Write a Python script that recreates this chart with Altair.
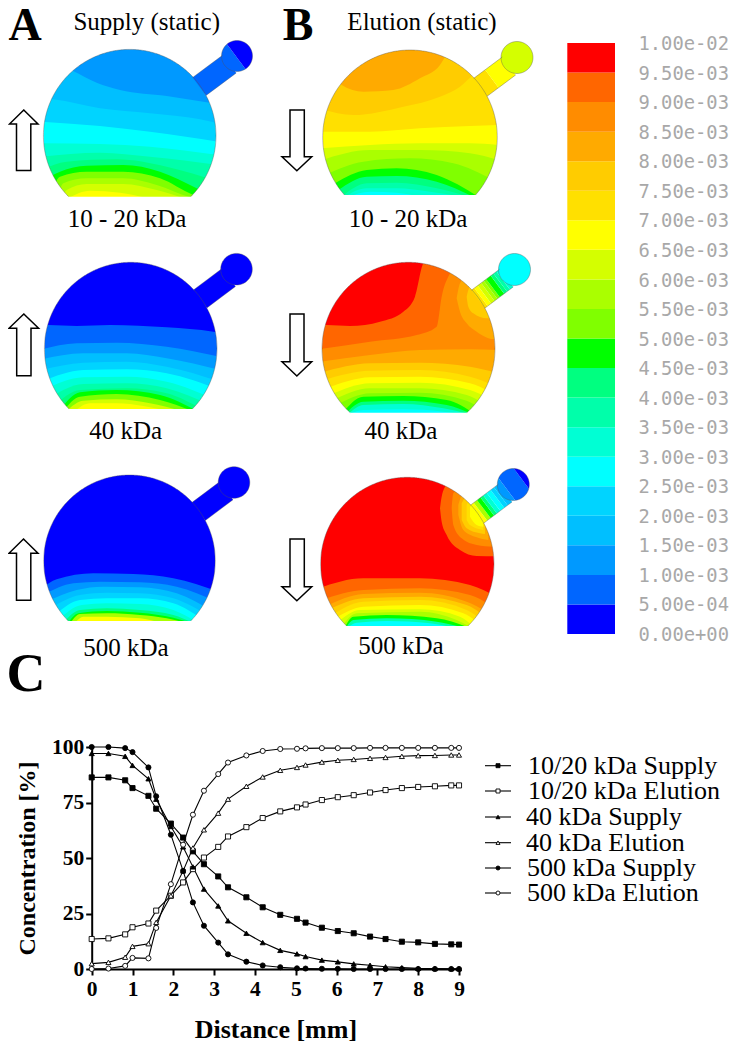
import math
import altair as alt
import pandas as pd

# ---------- colour levels (bottom of the colour bar first) ----------
COLORS = ["#0000ff", "#0066ff", "#0099ff", "#00bfff", "#00d4ff", "#00ffff", "#00ffd4",
          "#00ffaa", "#00ff80", "#00ff00", "#80ff00", "#aaff00", "#d4ff00", "#ffff00",
          "#ffe000", "#ffcc00", "#ffaa00", "#ff8c00", "#ff6600", "#ff0000"]
BAR_LABELS = ["0.00e+00", "5.00e-04", "1.00e-03", "1.50e-03", "2.00e-03", "2.50e-03", "3.00e-03",
              "3.50e-03", "4.00e-03", "4.50e-03", "5.00e-03", "5.50e-03", "6.00e-03", "6.50e-03",
              "7.00e-03", "7.50e-03", "8.00e-03", "8.50e-03", "9.00e-03", "9.50e-03", "1.00e-02"]

# ---------- concentration profiles ----------
DIST = [0, 0.41, 0.82, 1.0, 1.39, 1.58, 1.94, 2.24, 2.48, 2.75, 3.1, 3.34, 3.79, 4.19, 4.62, 5.03,
        5.24, 5.64, 6.03, 6.42, 6.82, 7.2, 7.6, 8.0, 8.41, 8.81, 9.0]
S10 = [86.3, 86.3, 85, 81.5, 78, 72.2, 65.5, 59.2, 53, 47.2, 41.7, 36.8, 32.3, 27.8, 24.4, 22.6,
       20.9, 18.6, 17.1, 16.1, 14.6, 13.5, 12.3, 12, 11.3, 11.1, 11]
E10 = [13.5, 13.8, 15.6, 18.8, 20.5, 26.3, 33, 39, 45, 50.2, 55, 59.7, 63.9, 68, 71, 72.8,
       74.1, 76.1, 77.4, 78.3, 79.5, 80.6, 81.5, 82, 82.3, 82.7, 82.7]
S40 = [97.1, 97.1, 95.8, 91.7, 85.7, 76.5, 64.2, 55, 46, 36, 28.4, 21.7, 16.1, 11.9, 8.4, 6.8,
       5.6, 4, 3.2, 2.3, 1.7, 1, 0.6, 0.3, 0.2, 0.1, 0.1]
E40 = [2.4, 3, 5.3, 10.2, 11.4, 21, 33, 44.2, 54.5, 62.7, 70.2, 76.5, 82.3, 86.5, 89.5, 90.8,
       91.9, 93.2, 94, 94.4, 94.9, 95.3, 95.8, 96.1, 96.2, 96.4, 96.4]
S500 = [100, 100, 99.5, 97.7, 90.8, 77.8, 60.5, 44.2, 30, 19.5, 11.9, 6.6, 3.3, 1.6, 0.8, 0.3,
        0.2, 0.1, 0.1, 0, 0, 0, 0, 0, 0, 0, 0]
E500 = [0, 0.2, 1.4, 5, 4.8, 18.5, 38.2, 56, 69.5, 80.3, 87.8, 93, 96.2, 98.2, 99.1, 99.2,
        99.4, 99.5, 99.5, 99.5, 99.6, 99.6, 99.6, 99.6, 99.6, 99.6, 99.6]
NAMES = ["10/20 kDa Supply", "10/20 kDa Elution", "40 kDa Supply", "40 kDa Elution",
         "500 kDa Supply", "500 kDa Elution"]
SERIES = [S10, E10, S40, E40, S500, E500]
SHAPES = ["square", "square", "triangle-up", "triangle-up", "circle", "circle"]
FILLS = ["black", "white", "black", "white", "black", "white"]
LEG_Y = [765.7, 791, 817, 842.7, 868, 893]
LEG_TX = [528, 528, 526, 526, 527, 527]

# ---------- contour panels, read in 3x crop coordinates (crop origin ox, oy) ----------
A1 = dict(ox=0, oy=0, c=(129.7, 135.7, 86.3), flat=196.7, head=(237, 56, 15.5), shift=2, base=2,
          stem=[(0, 1, 1)], headb=[(-99, -1, 1), (-1, 99, 0)], bands=[
    (3, [(125, 175), (218, 212), (290, 248), (360, 270), (500, 288), (615, 306), (655, 312)]),
    (4, [(125, 295), (160, 298), (300, 325), (450, 340), (600, 358), (655, 370)]),
    (5, [(125, 365), (300, 378), (450, 395), (655, 425)]),
    (6, [(125, 430), (300, 432), (450, 440), (655, 465)]),
    (7, [(125, 470), (300, 458), (450, 470), (655, 495)]),
    (8, [(125, 510), (200, 485), (350, 478), (500, 500), (655, 545)]),
    (9, [(125, 545), (180, 515), (260, 497), (370, 495), (480, 515), (590, 565), (655, 610)]),
    (10, [(150, 590), (180, 530), (260, 515), (370, 515), (480, 535), (580, 585), (620, 600)]),
    (11, [(170, 600), (190, 550), (260, 535), (370, 535), (470, 555), (570, 592), (600, 600)]),
    (12, [(185, 600), (200, 570), (260, 552), (370, 552), (470, 570), (560, 598)]),
    (13, [(205, 594), (270, 572), (360, 578), (440, 594)]),
])
A2 = dict(ox=0, oy=240, c=(130.7, 348.6, 86.3), flat=409, head=(236.5, 269.2, 15.8), shift=2, base=0,
          stem=[(0, 1, 0)], headb=[(-99, 99, 0)], bands=[
    (1, [(125, 255), (145, 255), (230, 258), (330, 255), (500, 262), (640, 275), (660, 278)]),
    (2, [(125, 328), (230, 310), (350, 308), (500, 320), (660, 350)]),
    (3, [(125, 358), (250, 340), (380, 340), (500, 355), (660, 390)]),
    (4, [(125, 390), (250, 368), (380, 365), (500, 380), (660, 425)]),
    (5, [(125, 425), (250, 390), (380, 388), (500, 400), (660, 450)]),
    (6, [(130, 450), (250, 412), (380, 410), (500, 425), (650, 480)]),
    (7, [(140, 480), (250, 432), (380, 430), (500, 445), (630, 495)]),
    (8, [(160, 500), (240, 450), (380, 445), (500, 460), (610, 510)]),
    (9, [(180, 510), (240, 457), (350, 450), (480, 465), (590, 512)]),
    (10, [(190, 512), (240, 470), (350, 462), (480, 480), (575, 512)]),
    (12, [(200, 512), (250, 482), (350, 478), (450, 490), (540, 512)]),
    (13, [(225, 512), (270, 490), (350, 490), (430, 498), (500, 512)]),
])
A3 = dict(ox=0, oy=450, c=(129.5, 560.8, 85.8), flat=621, head=(234, 482.5, 15.8), shift=2, base=0,
          stem=[(0, 1, 0)], headb=[(-99, 99, 0)], bands=[
    (1, [(125, 415), (170, 388), (280, 370), (400, 372), (520, 385), (655, 425)]),
    (2, [(130, 435), (220, 400), (300, 395), (420, 397), (530, 410), (650, 455)]),
    (3, [(140, 455), (230, 420), (310, 410), (420, 412), (530, 430), (640, 485)]),
    (4, [(150, 475), (240, 435), (320, 428), (420, 430), (520, 445), (630, 500)]),
    (5, [(165, 495), (240, 450), (320, 445), (420, 445), (520, 460), (610, 510)]),
    (6, [(175, 510), (245, 465), (320, 460), (420, 462), (520, 480), (590, 516)]),
    (8, [(190, 518), (240, 480), (320, 475), (420, 480), (520, 495), (578, 518)]),
    (9, [(205, 518), (235, 490), (320, 483), (420, 488), (520, 503), (570, 518)]),
    (11, [(212, 518), (240, 492), (320, 490), (420, 495), (500, 505), (555, 518)]),
    (13, [(225, 518), (250, 500), (320, 500), (420, 505), (480, 518)]),
])
B1 = dict(ox=270, oy=0, c=(410, 137.3, 87.3), flat=195, head=(517, 57.5, 16), shift=2, base=16,
          stem=[(0, 0.4, 14), (0.4, 1, 13)], headb=[(-99, 99, 12)], bands=[
    (15, [(150, 190), (215, 255), (280, 275), (370, 270), (450, 235), (510, 195), (530, 165), (560, 152), (690, 152)]),
    (14, [(155, 328), (250, 345), (400, 320), (510, 290), (570, 260), (610, 225), (690, 190)]),
    (13, [(155, 395), (300, 395), (450, 385), (600, 378), (685, 375)]),
    (12, [(155, 445), (300, 435), (450, 430), (600, 430), (685, 435)]),
    (11, [(155, 480), (300, 450), (450, 450), (600, 460), (685, 480)]),
    (10, [(165, 525), (280, 485), (420, 475), (550, 490), (670, 540)]),
    (9, [(195, 550), (290, 510), (380, 505), (500, 525), (625, 590)]),
    (8, [(205, 570), (290, 530), (380, 528), (500, 545), (610, 590)]),
    (7, [(215, 590), (290, 550), (380, 548), (500, 565), (595, 590)]),
    (6, [(225, 590), (290, 565), (380, 565), (480, 575), (575, 590)]),
    (5, [(235, 590), (300, 575), (380, 578), (450, 590)]),
])
B2 = dict(ox=270, oy=240, c=(408.5, 348.8, 86.5), flat=412.7, head=(514.5, 269.5, 16), shift=2, base=19,
          stem=[(0, 0.1, 14), (0.1, 0.22, 13), (0.22, 0.34, 12), (0.34, 0.44, 11), (0.44, 0.52, 10),
                (0.52, 0.68, 9), (0.68, 0.78, 8), (0.78, 0.88, 7), (0.88, 1, 6)],
          headb=[(-99, 99, 5)], bands=[
    (18, [(150, 255), (170, 255), (240, 258), (330, 245), (400, 215), (435, 170), (460, 70), (470, 62), (690, 62)]),
    (17, [(150, 327), (300, 305), (440, 285), (500, 260), (515, 170), (540, 100), (560, 70), (690, 70)]),
    (16, [(560, 175, 175), (570, 130, 215), (590, 110, 250), (620, 100, 275), (670, 100, 297), (685, 100, 297)]),
    (15, [(590, 170, 170), (595, 150, 200), (610, 130, 220), (650, 130, 235), (665, 130, 235)]),
    (16, [(150, 365), (300, 345), (450, 330), (600, 328), (685, 330)]),
    (15, [(155, 397), (300, 370), (450, 368), (600, 380), (680, 398)]),
    (14, [(160, 420), (300, 392), (450, 390), (600, 410), (670, 435)]),
    (13, [(170, 445), (300, 412), (450, 410), (600, 430), (660, 455)]),
    (12, [(180, 465), (300, 430), (450, 428), (600, 450), (650, 472)]),
    (11, [(190, 480), (300, 445), (450, 445), (590, 465), (640, 490)]),
    (10, [(200, 495), (300, 460), (450, 458), (590, 482), (630, 505)]),
    (9, [(215, 522), (280, 470), (400, 468), (530, 480), (615, 522)]),
    (8, [(225, 522), (280, 485), (400, 482), (530, 495), (605, 522)]),
    (6, [(235, 522), (280, 495), (400, 492), (520, 505), (595, 522)]),
    (5, [(240, 522), (280, 510), (400, 508), (520, 515), (570, 522)]),
])
B3 = dict(ox=270, oy=450, c=(407.3, 564, 86.7), flat=626, head=(513.3, 484.5, 16), shift=2, base=19,
          stem=[(0, 0.12, 13), (0.12, 0.24, 11), (0.24, 0.36, 9), (0.36, 0.46, 8), (0.46, 0.58, 6),
                (0.58, 0.72, 5), (0.72, 0.84, 4), (0.84, 1, 3)],
          headb=[(-99, -8, 2), (-8, 10, 1), (10, 99, 0)], bands=[
    (18, [(510, 175, 175), (515, 140, 215), (530, 105, 255), (570, 90, 300), (620, 90, 318), (680, 90, 319)]),
    (17, [(545, 175, 175), (550, 130, 225), (575, 110, 265), (620, 110, 285), (670, 110, 290)]),
    (16, [(565, 165, 195), (580, 130, 240), (620, 130, 262), (655, 130, 270)]),
    (15, [(575, 160, 210), (590, 140, 235), (630, 140, 250), (645, 140, 252)]),
    (14, [(590, 165, 210), (600, 150, 225), (640, 150, 240)]),
    (13, [(600, 170, 200), (620, 165, 225), (640, 165, 230)]),
    (18, [(145, 415), (280, 385), (450, 385), (600, 405), (680, 440)]),
    (17, [(155, 450), (280, 420), (450, 415), (600, 435), (660, 465)]),
    (16, [(165, 470), (280, 432), (450, 428), (590, 455), (650, 485)]),
    (15, [(175, 480), (280, 445), (450, 440), (590, 465), (640, 495)]),
    (14, [(185, 495), (280, 455), (450, 450), (590, 480), (630, 505)]),
    (13, [(195, 505), (280, 470), (450, 465), (580, 490), (620, 515)]),
    (12, [(205, 515), (270, 480), (450, 478), (570, 500), (610, 530)]),
    (11, [(215, 530), (260, 490), (450, 485), (560, 510), (600, 530)]),
    (9, [(225, 530), (250, 500), (350, 495), (500, 505), (590, 530)]),
    (7, [(230, 530), (250, 510), (350, 505), (500, 515), (570, 530)]),
    (5, [(235, 530), (260, 518), (350, 513), (480, 520), (540, 530)]),
])
PANELS = [A1, A2, A3, B1, B2, B3]

# arrows: shaft x0, x1, wing x0, x1, tip y, wing y, tail y
ARROWS = [(16.5, 30.8, 9.5, 38, 110, 124, 170.5), (16.7, 31, 9, 38.6, 314, 328.3, 375.7),
          (16.5, 30.8, 9, 38, 539, 553.3, 600.3), (290, 304.3, 282, 311.7, 170.7, 156.7, 110),
          (290, 304, 282, 311.7, 376, 361.7, 314), (290, 304.3, 282, 311.7, 600.7, 586.7, 539)]

LABEL_TXT = ["Supply (static)", "Elution (static)", "10 - 20 kDa", "40 kDa", "500 kDa",
             "10 - 20 kDa", "40 kDa", "500 kDa"]
LABEL_X = [146.7, 422, 127, 125.7, 126, 408, 401, 401]
LABEL_Y = [30, 30, 226.7, 439, 655.7, 226.7, 439, 654]
LETTER_TXT = ["A", "B", "C"]
LETTER_X = [25, 298, 26]
LETTER_Y = [39.5, 39.5, 691]
LETTER_S = [46, 46, 54]

# ---------- scene geometry ----------
def clip(poly, n, d0, d1):
    def half(p, f):
        out = []
        for i in range(len(p)):
            a, b = p[i], p[(i + 1) % len(p)]
            fa, fb = f(a), f(b)
            if fa >= 0:
                out.append(a)
            if fa * fb < 0:
                t = fa / (fa - fb)
                out.append((a[0] + t * (b[0] - a[0]), a[1] + t * (b[1] - a[1])))
        return out
    p = half(poly, lambda q: q[0] * n[0] + q[1] * n[1] - d0)
    return half(p, lambda q: d1 - q[0] * n[0] - q[1] * n[1]) if p else p

def columns(poly):
    xs = sorted({round(p[0], 2) for p in poly})
    rows = []
    for x in xs:
        ys = []
        for i in range(len(poly)):
            a, b = poly[i], poly[(i + 1) % len(poly)]
            lo, hi = min(a[0], b[0]), max(a[0], b[0])
            if lo - 0.011 <= x <= hi + 0.011:
                if abs(a[0] - b[0]) < 1e-6:
                    ys += [a[1], b[1]]
                else:
                    t = min(1, max(0, (x - a[0]) / (b[0] - a[0])))
                    ys.append(a[1] + t * (b[1] - a[1]))
        if ys:
            rows.append((x, min(ys), max(ys)))
    return rows

smooth, masks, polys, outlines = [], [], [], []
for pi, P in enumerate(PANELS):
    ox, oy = P["ox"], P["oy"]
    cx, cy, r = P["c"]
    flat = P["flat"]
    top, bot = cy - r - 3, flat + 3
    left, right = cx - r - 4, cx + r + 4
    tag = f"p{pi}"
    for x in (left, right):
        smooth.append(dict(x=x, y=top, y2=bot, lvl=P["base"], g=f"{tag}base"))
    for bi, (lvl, pts) in enumerate(P["bands"]):
        for q in pts:
            x = ox + q[0] / 3
            y = max(top, min(bot, oy + q[1] / 3))
            y2 = oy + q[2] / 3 if len(q) == 3 else bot
            smooth.append(dict(x=x, y=y, y2=y2, lvl=lvl, g=f"{tag}b{bi:02d}"))
    # white mask around the disc: upper part, lower part, and two overlapping side strips
    mt, mb, ml, mr = top - 3, bot + 3, left - 3, right + 3
    n = 240
    xs = [cx - r - 1] + [cx - r + 2 * r * i / n for i in range(n + 1)] + [cx + r + 1]
    for x in xs:
        h = math.sqrt(max(0, r * r - (x - cx) ** 2))
        masks.append(dict(x=x, y=mt, y2=cy - h, g=f"{tag}u"))
        masks.append(dict(x=x, y=min(cy + h, flat), y2=mb, g=f"{tag}l"))
    for side, (a, b) in enumerate(((ml, cx - r), (cx + r, mr))):
        for x in (a, b):
            masks.append(dict(x=x, y=mt, y2=mb, g=f"{tag}side{side}"))
    # outline of the disc
    a0 = math.asin(min(1, (flat - cy) / r))
    steps = 160
    for i in range(steps + 1):
        ang = math.pi - a0 + (math.pi + 2 * a0) * i / steps
        outlines.append(dict(x=cx + r * math.cos(ang), y=cy + r * math.sin(ang), i=i, g=f"{tag}disc"))
    # stem and head
    hx, hy, hr = P["head"]
    dist = math.hypot(hx - cx, hy - cy)
    ux, uy = (hx - cx) / dist, (hy - cy) / dist
    vx, vy = -uy, ux
    w, s = 11.2, P["shift"]
    t0 = math.sqrt(r * r - (w + s) ** 2)
    t1 = dist - math.sqrt(hr * hr - w * w)
    for si, (f0, f1, lvl) in enumerate(P["stem"]):
        a, b = t0 + (t1 - t0) * f0, t0 + (t1 - t0) * f1
        quad = [(cx + ux * t + vx * k, cy + uy * t + vy * k)
                for t, k in ((a, s - w), (b, s - w), (b, s + w), (a, s + w))]
        for x, y, y2 in columns(quad):
            polys.append(dict(x=x, y=y, y2=y2, lvl=lvl, g=f"{tag}s{si:02d}"))
    for e, k in enumerate((s - w, s + w)):
        for i, t in enumerate((t0, t1)):
            outlines.append(dict(x=cx + ux * t + vx * k, y=cy + uy * t + vy * k, i=i, g=f"{tag}e{e}"))
    ring = [(hx + hr * math.cos(2 * math.pi * i / 72), hy + hr * math.sin(2 * math.pi * i / 72)) for i in range(72)]
    for hi_, (d0, d1, lvl) in enumerate(P["headb"]):
        base = hx * ux + hy * uy
        part = clip(ring, (ux, uy), base + d0, base + d1)
        for x, y, y2 in columns(part):
            polys.append(dict(x=x, y=y, y2=y2, lvl=lvl, g=f"{tag}z{hi_:02d}"))
    for i, q in enumerate(ring + ring[:1]):
        outlines.append(dict(x=q[0], y=q[1], i=i, g=f"{tag}head"))

arrow_rows = []
for ai, (sx0, sx1, wx0, wx1, tip, wing, tail) in enumerate(ARROWS):
    mid = (wx0 + wx1) / 2
    seq = [(mid, tip), (wx1, wing), (sx1, wing), (sx1, tail), (sx0, tail), (sx0, wing), (wx0, wing), (mid, tip), (wx1, wing)]
    for i, (x, y) in enumerate(seq):
        arrow_rows.append(dict(x=x, y=y, i=i, g=f"a{ai}"))

BAR_TOP, BAR_BOT = 43.0, 634.0
bar_rows = [dict(x=567.3, x2=615, y=BAR_BOT - (BAR_BOT - BAR_TOP) * i / 20,
                 y2=BAR_BOT - (BAR_BOT - BAR_TOP) * (i + 1) / 20, lvl=i) for i in range(20)]
bar_txt = [dict(x=638.5, y=634 - 29.53 * i + 6.9, t=t) for i, t in enumerate(BAR_LABELS)]

# ---------- scales ----------
W, H = 721, 1035
SX = alt.Scale(domain=[8, 8 + W], nice=False, zero=False)
SY = alt.Scale(domain=[8 + H, 8], nice=False, zero=False)
X = alt.X("x:Q", scale=SX, axis=None)
Y = alt.Y("y:Q", scale=SY, axis=None)
LVL = alt.Color("lvl:O", scale=alt.Scale(domain=list(range(20)), range=COLORS), legend=None)
CX = alt.Scale(domain=[0, 9], range=[83.7, 451], nice=False, zero=False)
CY = alt.Scale(domain=[0, 100], range=[961, 739], nice=False, zero=False)
SHP = alt.Shape("s:N", scale=alt.Scale(domain=NAMES, range=SHAPES), legend=None)
FIL = alt.Color("s:N", scale=alt.Scale(domain=NAMES, range=FILLS), legend=None)

long = pd.DataFrame([dict(d=d, v=v, s=n) for n, vals in zip(NAMES, SERIES) for d, v in zip(DIST, vals)])

disc = alt.Chart(pd.DataFrame(smooth)).mark_area(interpolate="monotone", orient="vertical").encode(
    x=X, y=Y, y2="y2:Q", color=LVL, detail="g:N")
mask = alt.Chart(pd.DataFrame(masks)).mark_area(color="white", orient="vertical").encode(
    x=X, y=Y, y2="y2:Q", detail="g:N")
poly = alt.Chart(pd.DataFrame(polys)).mark_area(orient="vertical").encode(
    x=X, y=Y, y2="y2:Q", color=LVL, detail="g:N")
outline = alt.Chart(pd.DataFrame(outlines)).mark_line(color="#555555", strokeWidth=0.7, opacity=0.55).encode(
    x=X, y=Y, order="i:Q", detail="g:N")
arrows = alt.Chart(pd.DataFrame(arrow_rows)).mark_line(color="black", strokeWidth=1.5).encode(
    x=X, y=Y, order="i:Q", detail="g:N")
bar = alt.Chart(pd.DataFrame(bar_rows)).mark_rect().encode(x=X, x2="x2:Q", y=Y, y2="y2:Q", color=LVL)
bar_text = alt.Chart(pd.DataFrame(bar_txt)).mark_text(
    font="DejaVu Sans Mono", fontSize=18.8, align="left", baseline="alphabetic", color="#a8a8a8").encode(
    x=X, y=Y, text="t:N")
labels = alt.Chart(pd.DataFrame(dict(x=LABEL_X, y=LABEL_Y, t=LABEL_TXT))).mark_text(
    font="Liberation Serif", fontSize=25, align="center", baseline="alphabetic", color="black").encode(
    x=X, y=Y, text="t:N")
letters = alt.Chart(pd.DataFrame(dict(x=LETTER_X, y=LETTER_Y, t=LETTER_TXT, fs=LETTER_S))).mark_text(
    font="Liberation Serif", fontWeight="bold", align="center", baseline="alphabetic", color="black").encode(
    x=X, y=Y, text="t:N", size=alt.Size("fs:Q", scale=None))

c_lines = alt.Chart(long).mark_line(color="black", strokeWidth=1.1).encode(
    x=alt.X("d:Q", scale=CX, title="Distance [mm]", axis=alt.Axis(
        values=list(range(10)), offset=-(8 + H - 969), domainWidth=2, domainColor="black", tickWidth=2, tickColor="black",
        tickSize=6, labelFont="Liberation Serif", labelFontWeight="bold", labelFontSize=21.5, labelColor="black",
        labelPadding=3, titleFont="Liberation Serif", titleFontWeight="bold", titleFontSize=26,
        titleColor="black", titlePadding=17, grid=False, labelFlush=False, labelOverlap=False)),
    y=alt.Y("v:Q", scale=CY, title="Concentration [%]", axis=alt.Axis(
        values=[0, 25, 50, 75, 100], offset=-83.7, domainWidth=2, domainColor="black", tickWidth=2, tickColor="black",
        tickSize=6, labelFont="Liberation Serif", labelFontWeight="bold", labelFontSize=21.5, labelColor="black",
        labelPadding=2, titleFont="Liberation Serif", titleFontWeight="bold", titleFontSize=24,
        titleColor="black", titlePadding=12, grid=False, labelFlush=False, labelOverlap=False)),
    detail="s:N")
c_points = alt.Chart(long).mark_point(filled=True, size=26, stroke="black", strokeWidth=0.9, opacity=1).encode(
    x=alt.X("d:Q", scale=CX, axis=None, title=None), y=alt.Y("v:Q", scale=CY, axis=None, title=None),
    shape=SHP, color=FIL)

leg = pd.DataFrame(dict(x=[485] * 6, x2=[511] * 6, y=LEG_Y, s=NAMES))
leg_rule = alt.Chart(leg).mark_rule(color="black", strokeWidth=1.1).encode(x=X, x2="x2:Q", y=Y)
leg_pts = alt.Chart(pd.DataFrame(dict(x=[498] * 6, y=LEG_Y, s=NAMES))).mark_point(
    filled=True, size=16, stroke="black", strokeWidth=0.9, opacity=1).encode(x=X, y=Y, shape=SHP, color=FIL)
leg_txt = alt.Chart(pd.DataFrame(dict(x=LEG_TX, y=[v + 8 for v in LEG_Y], t=NAMES))).mark_text(
    font="Liberation Serif", fontSize=26, align="left", baseline="alphabetic", color="black").encode(
    x=X, y=Y, text="t:N")

chart = alt.layer(disc, mask, poly, outline, arrows, bar, bar_text, labels, letters,
                  c_lines, c_points, leg_rule, leg_pts, leg_txt).resolve_scale(
    x="independent", y="independent", color="independent", shape="independent"
).properties(width=W, height=H, padding=0, background="white", autosize=alt.AutoSizeParams(type="none")
).configure_view(stroke=None)

chart.save("out.html", embed_options={"renderer": "svg", "actions": False})
